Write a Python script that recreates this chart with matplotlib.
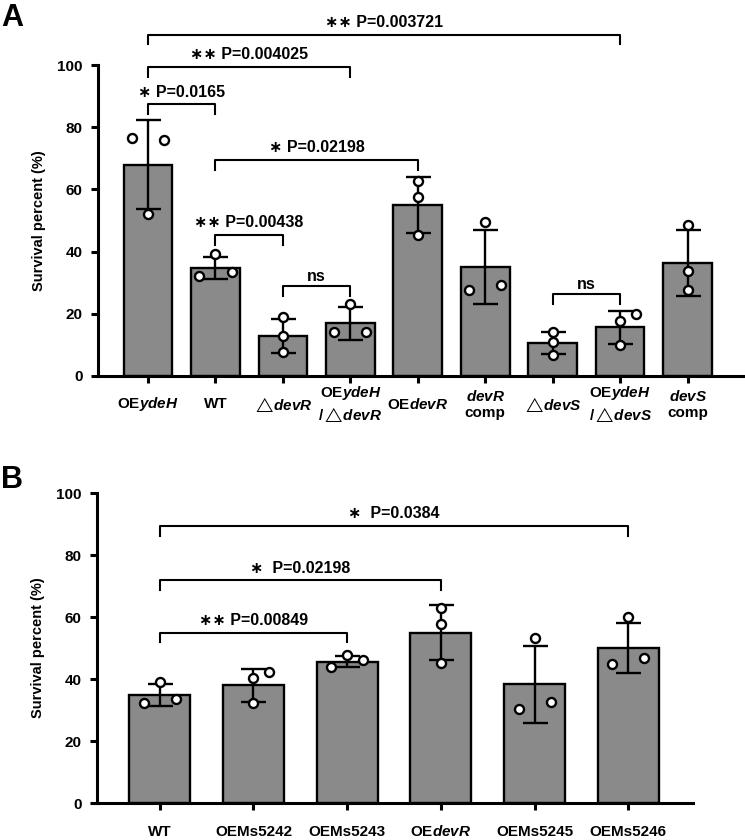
import matplotlib
matplotlib.use("Agg")
import matplotlib.pyplot as plt

plt.rcParams['font.family'] = ['Liberation Sans', 'DejaVu Sans']
plt.rcParams['mathtext.fontset'] = 'custom'
plt.rcParams['mathtext.rm'] = 'Liberation Sans:bold'
plt.rcParams['mathtext.bf'] = 'Liberation Sans:bold'
plt.rcParams['mathtext.it'] = 'Liberation Sans:italic:bold'
plt.rcParams['mathtext.fallback'] = 'stixsans'

# ---- panel A data ----
labels_a = ["OE$\\it{ydeH}$", "WT", "$\\triangle\\!\\it{devR}$",
            "OE$\\it{ydeH}$\n/$\\triangle\\!\\it{devR}$", "OE$\\it{devR}$",
            "$\\it{devR}$\ncomp", "$\\triangle\\!\\it{devS}$",
            "OE$\\it{ydeH}$\n/$\\triangle\\!\\it{devS}$", "$\\it{devS}$\ncomp"]
means_a = [68.0, 34.8, 12.8, 16.9, 54.9, 35.1, 10.7, 15.6, 36.2]
sds_a = [14.2, 3.5, 5.5, 5.2, 9.0, 12.0, 3.6, 5.2, 10.6]
points_a = [[76.6, 75.9, 52.1], [39.3, 32.3, 33.5], [19.0, 12.8, 7.8],
            [23.0, 14.0, 14.3], [62.8, 57.7, 45.2], [49.6, 27.6, 29.4],
            [14.0, 11.0, 6.9], [19.9, 17.7, 10.0], [48.6, 33.8, 27.8]]
side_a = [[-1, 1, 0], [0, -1, 1], [0, 0, 0], [0, -1, 1], [0, 0, 0],
          [0, -1, 1], [0, 0, 0], [1, 0, 0], [0, 0, 0]]
brackets_a = [(0, 1, 87.4, "\u2217 P=0.0165"), (0, 3, 99.5, "\u2217\u2217 P=0.004025"),
              (0, 7, 109.8, "\u2217\u2217 P=0.003721"), (1, 4, 69.6, "\u2217 P=0.02198"),
              (1, 2, 45.4, "\u2217\u2217 P=0.00438"), (2, 3, 29.0, "ns"), (6, 7, 26.5, "ns")]

# ---- panel B data ----
labels_b = ["WT", "OEMs5242", "OEMs5243", "OE$\\it{devR}$", "OEMs5245", "OEMs5246"]
means_b = [34.8, 38.0, 45.6, 55.0, 38.3, 50.1]
sds_b = [3.6, 5.3, 1.8, 9.0, 12.5, 8.1]
points_b = [[39.2, 32.2, 33.7], [40.2, 42.2, 32.2], [44.0, 47.6, 46.1],
            [63.0, 57.9, 45.3], [53.1, 30.5, 32.5], [59.9, 44.7, 46.8]]
side_b = [[0, -1, 1], [0, 1, 0], [-1, 0, 1], [0, 0, 0], [0, -1, 1], [0, -1, 1]]
brackets_b = [(0, 2, 55.0, "\u2217\u2217 P=0.00849"), (0, 3, 71.9, "\u2217  P=0.02198"),
              (0, 5, 89.5, "\u2217  P=0.0384")]


def draw_panel(ax, labels, means, sds, points, side, brackets, width, jit, xlim):
    x = list(range(len(labels)))
    ax.bar(x, means, width, color='#8a8a8a', edgecolor='black', linewidth=1.7, zorder=1)
    ax.errorbar(x, means, yerr=sds, fmt='none', ecolor='black', elinewidth=1.7,
                capsize=9, capthick=1.7, zorder=2)
    for i in x:
        xs = [i + s * jit for s in side[i]]
        ax.plot(xs, points[i], 'o', mfc='white', mec='black', mew=1.7, ms=6.5,
                zorder=3, clip_on=False)
    for i, j, y, txt in brackets:
        ax.plot([i, i, j, j], [y - 3.2, y, y, y - 3.2], color='black', lw=1.5,
                clip_on=False, zorder=3)
        dy = 3.0 if txt == "ns" else 3.9
        ax.text((i + j) / 2, y + dy, txt, ha='center', va='center',
                fontsize=11.5, fontweight='bold')
    ax.set_xlim(*xlim)
    ax.set_ylim(0, 100)
    ax.set_yticks(range(0, 101, 20))
    ax.set_xticks(x, labels, fontsize=11, fontweight='bold')
    for lbl in ax.get_xticklabels():
        lbl.set_verticalalignment('center')
    for lbl in ax.get_yticklabels():
        lbl.set_fontweight('bold')
    ax.spines[['top', 'right']].set_visible(False)
    ax.spines[['left', 'bottom']].set_linewidth(2.2)
    ax.tick_params(width=2.2, length=5)
    ax.tick_params(axis='y', pad=6, labelsize=11)
    ax.tick_params(axis='x', pad=15.5)
    ax.set_ylabel("Survival percent (%)", fontsize=10.5, fontweight='bold', labelpad=8)


fig = plt.figure(figsize=(7.45, 8.4), dpi=100)
ax_a = fig.add_axes([0.1315, 0.5524, 0.8685, 0.3702])
ax_b = fig.add_axes([0.1302, 0.0440, 0.80, 0.369])

draw_panel(ax_a, labels_a, means_a, sds_a, points_a, side_a, brackets_a,
           0.72, 0.24, (-0.74, 8.85))
draw_panel(ax_b, labels_b, means_b, sds_b, points_b, side_b, brackets_b,
           0.65, 0.17, (-0.67, 5.69))

fig.text(0.002, 0.997, "A", fontsize=22, fontweight='bold', va='top')
fig.text(0.002, 0.447, "B", fontsize=22, fontweight='bold', va='top')

fig.savefig("out.png", dpi=100)
